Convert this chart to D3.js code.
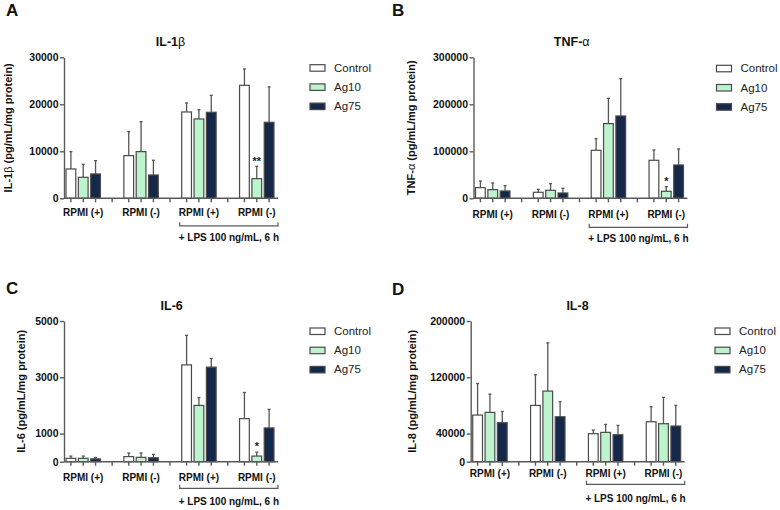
<!DOCTYPE html>
<html>
<head>
<meta charset="utf-8">
<script src="https://cdn.jsdelivr.net/npm/d3@7"></script>
<style>
  body { margin: 0; background: #fff; }
  svg { display: block; font-family: "Liberation Sans", Arial, sans-serif; }
</style>
</head>
<body>
<svg id="chart" width="780" height="510"></svg>
<script>
// ---------------- DATA ----------------
const groupLabels = ["RPMI (+)", "RPMI (-)", "RPMI (+)", "RPMI (-)"];
const seriesNames = ["Control", "Ag10", "Ag75"];
const lpsLabel = "+ LPS 100 ng/mL, 6 h";

// IL-1β
const il1bMean = { Control: [6240, 9080, 18370, 24040], Ag10: [4470, 9930, 16880, 4180], Ag75: [5180, 4960, 18300, 16170] };
const il1bSD   = { Control: [3690, 5100, 1910, 3480],   Ag10: [2760, 6380, 1990, 2630],  Ag75: [2830, 3130, 3610, 7520] };
const il1bTicks = [0, 10000, 20000, 30000];

// TNF-α
const tnfMean = { Control: [22700, 12800, 102100, 80900], Ag10: [18400, 17000, 158900, 14900], Ag75: [15600, 11300, 175200, 70900] };
const tnfSD   = { Control: [14200, 6300, 24900, 21900],   Ag10: [14200, 14200, 53900, 9900],    Ag75: [11400, 10000, 79400, 34100] };
const tnfTicks = [0, 100000, 200000, 300000];

// IL-6
const il6Mean = { Control: [120, 180, 3440, 1530], Ag10: [120, 155, 2000, 200], Ag75: [100, 140, 3360, 1200] };
const il6SD   = { Control: [80, 130, 1050, 930],   Ag10: [80, 155, 280, 140],   Ag75: [50, 120, 310, 660] };
const il6Ticks = [0, 1000, 3000, 5000];

// IL-8
const il8Mean = { Control: [66300, 80000, 39800, 56800], Ag10: [70100, 100400, 41700, 54000], Ag75: [55400, 63900, 38300, 50700] };
const il8SD   = { Control: [44900, 43600, 5200, 21300],  Ag10: [26000, 68600, 11300, 37400],  Ag75: [16100, 21300, 13300, 29300] };
const il8Ticks = [0, 40000, 120000, 200000];

// significance marks: [group index, series, text]
const il1bSig = [[3, "Ag10", "**"]];
const tnfSig  = [[3, "Ag10", "*"]];
const il6Sig  = [[3, "Ag10", "*"]];
const il8Sig  = [];

// ---------------- STYLE / LAYOUT ----------------
const colors = { Control: "#ffffff", Ag10: "#bdf3cd", Ag75: "#15284a" };
const strokeCol = "#4a4a4a";
const axisCol = "#5a5a5a";

const panels = [
  { letter: "A", title: ["IL-1", "β"], ylab: ["IL-1", "β", " (pg/mL/mg protein)"], mean: il1bMean, sd: il1bSD, ticks: il1bTicks, sig: il1bSig,
    x0: 64, yTop: 57.3, yZero: 198.3, titleX: 170.5, titleY: 46, ylabX: 8, legX: 310, legY: 67.7, letX: 6, letY: 16, off: [14, 27.5, 39] },
  { letter: "B", title: ["TNF-", "α"], ylab: ["TNF-", "α", " (pg/mL/mg protein)"], mean: tnfMean, sd: tnfSD, ticks: tnfTicks, sig: tnfSig,
    x0: 473.5, yTop: 57.3, yZero: 198.3, titleX: 571.7, titleY: 46, ylabX: 411.5, legX: 716.5, legY: 68.3, letX: 392, letY: 16, off: [16, 29, 40.5] },
  { letter: "C", title: ["IL-6", ""], ylab: ["IL-6", "", " (pg/mL/mg protein)"], mean: il6Mean, sd: il6SD, ticks: il6Ticks, sig: il6Sig,
    x0: 64, yTop: 321, yZero: 461.7, titleX: 171.7, titleY: 309.5, ylabX: 21, legX: 310, legY: 331, letX: 6, letY: 293.5, off: [16, 26.6, 40] },
  { letter: "D", title: ["IL-8", ""], ylab: ["IL-8", "", " (pg/mL/mg protein)"], mean: il8Mean, sd: il8SD, ticks: il8Ticks, sig: il8Sig,
    x0: 470.7, yTop: 321, yZero: 461.7, titleX: 577.5, titleY: 309.5, ylabX: 411.7, legX: 715, legY: 331, letX: 392, letY: 295, off: [11.6, 22.6, 36.6] }
];

const svg = d3.select("#chart");

panels.forEach(p => {
  const g = svg.append("g");
  const axisLen = 214;
  const gx = d3.scaleBand().domain(d3.range(groupLabels.length))
    .range([p.x0, p.x0 + 212]).paddingInner(0.405).paddingOuter(0.035);
  const sx = d3.scaleBand().domain(seriesNames).range([0, gx.bandwidth()]).paddingInner(0.21).paddingOuter(0);
  const y = d3.scaleLinear().domain([0, p.ticks[p.ticks.length - 1]]).range([p.yZero, p.yTop]);

  // panel letter
  g.append("text").attr("x", p.letX).attr("y", p.letY).text(p.letter)
    .attr("font-size", 17).attr("font-weight", "bold").attr("fill", "#111");

  // title
  const t = g.append("text").attr("x", p.titleX).attr("y", p.titleY).attr("text-anchor", "middle")
    .attr("font-size", 12.5).attr("font-weight", "bold").attr("fill", "#111");
  t.append("tspan").text(p.title[0]);
  if (p.title[1]) t.append("tspan").attr("font-weight", "normal").text(p.title[1]);

  // y label
  const yl = g.append("text")
    .attr("transform", `translate(${p.ylabX},${(p.yTop + p.yZero) / 2}) rotate(-90)`)
    .attr("text-anchor", "middle").attr("dy", "0.35em")
    .attr("font-size", 11).attr("font-weight", "bold").attr("fill", "#111");
  yl.append("tspan").text(p.ylab[0]);
  if (p.ylab[1]) yl.append("tspan").attr("font-weight", "normal").text(p.ylab[1]);
  yl.append("tspan").text(p.ylab[2]);

  // y axis
  const yAxis = g.append("g").attr("transform", `translate(${p.x0},0)`)
    .call(d3.axisLeft(y).tickValues(p.ticks).tickFormat(d3.format("d")).tickSize(4).tickPadding(1.5).tickSizeOuter(0));
  yAxis.select(".domain").attr("stroke", axisCol).attr("stroke-width", 1.4);
  yAxis.selectAll(".tick line").attr("stroke", axisCol).attr("stroke-width", 1.4);
  yAxis.selectAll(".tick text").attr("font-size", 10.5).attr("font-weight", "bold").attr("fill", "#111")
    .attr("font-family", "Liberation Sans, Arial, sans-serif");

  // bars
  const data = [];
  groupLabels.forEach((gl, gi) => seriesNames.forEach(s => data.push({ gi, s, m: p.mean[s][gi], sd: p.sd[s][gi] })));

  // error bars (upward)
  const eb = g.append("g").attr("stroke", "#555").attr("stroke-width", 1.3);
  data.forEach(d => {
    const cx = gx(d.gi) + sx(d.s) + sx.bandwidth() / 2;
    eb.append("line").attr("x1", cx).attr("x2", cx).attr("y1", y(d.m)).attr("y2", y(d.m + d.sd));
    eb.append("line").attr("x1", cx - 1.5).attr("x2", cx + 1.5).attr("y1", y(d.m + d.sd)).attr("y2", y(d.m + d.sd));
  });

  g.append("g").selectAll("rect").data(data).join("rect")
    .attr("x", d => gx(d.gi) + sx(d.s))
    .attr("width", sx.bandwidth())
    .attr("y", d => y(d.m))
    .attr("height", d => y(0) - y(d.m))
    .attr("fill", d => colors[d.s])
    .attr("stroke", strokeCol).attr("stroke-width", 1.2);

  // x axis line + ticks
  const xa = g.append("g").attr("stroke", axisCol).attr("stroke-width", 1.4);
  xa.append("line").attr("x1", p.x0).attr("x2", p.x0 + axisLen).attr("y1", p.yZero).attr("y2", p.yZero);
  data.forEach(d => {
    const cx = gx(d.gi) + sx(d.s) + sx.bandwidth() / 2;
    xa.append("line").attr("x1", cx).attr("x2", cx).attr("y1", p.yZero).attr("y2", p.yZero + 4);
  });
  d3.range(groupLabels.length - 1).forEach(i => {
    const sxp = gx(i) + gx.bandwidth() + (gx.step() - gx.bandwidth()) / 2;
    xa.append("line").attr("x1", sxp).attr("x2", sxp).attr("y1", p.yZero).attr("y2", p.yZero + 4);
  });

  // group labels
  groupLabels.forEach((gl, gi) => {
    g.append("text").attr("x", gx(gi) + gx.bandwidth() / 2).attr("y", p.yZero + p.off[0]).attr("dy", "0.35em")
      .attr("text-anchor", "middle").attr("font-size", 10).attr("font-weight", "bold").attr("fill", "#111").text(gl);
  });

  // bracket for LPS
  const bx1 = gx(2) - 2, bx2 = p.x0 + axisLen, by = p.yZero + p.off[1];
  g.append("path").attr("d", `M${bx1},${by - 3.5}V${by}H${bx2}V${by - 3.5}`)
    .attr("fill", "none").attr("stroke", axisCol).attr("stroke-width", 1.2);
  g.append("text").attr("x", (bx1 + bx2) / 2).attr("y", p.yZero + p.off[2]).attr("dy", "0.35em")
    .attr("text-anchor", "middle").attr("font-size", 10).attr("font-weight", "bold").attr("fill", "#111").text(lpsLabel);

  // significance
  p.sig.forEach(([gi, s, txt]) => {
    const cx = gx(gi) + sx(s) + sx.bandwidth() / 2;
    g.append("text").attr("x", cx).attr("y", y(p.mean[s][gi] + p.sd[s][gi]) + 1)
      .attr("text-anchor", "middle").attr("font-size", 11).attr("font-weight", "bold").attr("fill", "#222")
      .attr("dy", "-0.25em").text(txt);
  });

  // legend
  seriesNames.forEach((s, i) => {
    const ly = p.legY + i * 19.2;
    g.append("rect").attr("x", p.legX).attr("y", ly - 3).attr("width", 15).attr("height", 6.5)
      .attr("fill", colors[s]).attr("stroke", strokeCol).attr("stroke-width", 1.2);
    g.append("text").attr("x", p.legX + 24).attr("y", ly).attr("dy", "0.35em")
      .attr("font-size", 11.5).attr("fill", "#222").text(s);
  });
});
</script>
</body>
</html>
